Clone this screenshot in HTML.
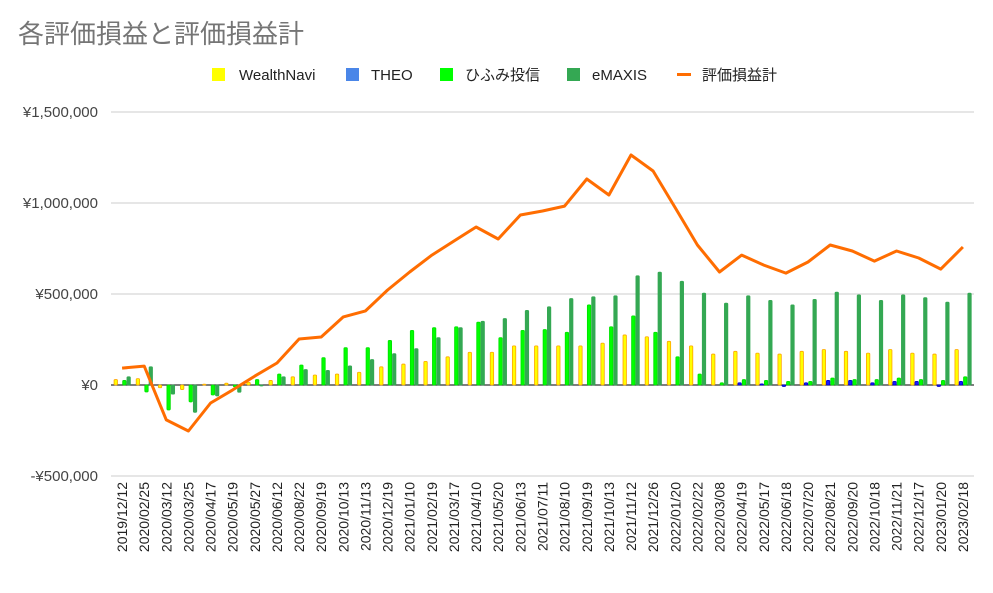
<!DOCTYPE html>
<html><head><meta charset="utf-8"><style>
body{margin:0;background:#fff;}
svg text{font-family:"Liberation Sans","Noto Sans CJK JP",sans-serif;}
</style></head><body>
<svg id="chart" width="993" height="588" xmlns="http://www.w3.org/2000/svg">
<rect width="993" height="588" fill="#fff"/>
<text x="18" y="43" font-size="26" fill="#757575">各評価損益と評価損益計</text>
<g id="legend" font-size="15" fill="#222">
<rect x="212" y="68" width="13" height="13" fill="#ffff00"/><text x="239" y="80">WealthNavi</text>
<rect x="346" y="68" width="13" height="13" fill="#4a86e8"/><text x="371" y="80">THEO</text>
<rect x="440" y="68" width="13" height="13" fill="#00ff00"/><text x="465" y="80">ひふみ投信</text>
<rect x="567" y="68" width="13" height="13" fill="#34a853"/><text x="592" y="80">eMAXIS</text>
<rect x="677" y="73" width="14" height="3" fill="#ff6d01"/><text x="702" y="80">評価損益計</text>
</g>
<g id="grid"></g><g id="bars"></g><g id="line"></g><g id="xlabels"></g>
</svg>
<script>
const categories=["2019/12/12","2020/02/25","2020/03/12","2020/03/25","2020/04/17","2020/05/19","2020/05/27","2020/06/12","2020/08/22","2020/09/19","2020/10/13","2020/11/13","2020/12/19","2021/01/10","2021/02/19","2021/03/17","2021/04/10","2021/05/20","2021/06/13","2021/07/11","2021/08/10","2021/09/19","2021/10/13","2021/11/12","2021/12/26","2022/01/20","2022/02/22","2022/03/08","2022/04/19","2022/05/17","2022/06/18","2022/07/20","2022/08/21","2022/09/20","2022/10/18","2022/11/21","2022/12/17","2023/01/20","2023/02/18"];
const wealthNavi=[30000,35000,-15000,-25000,5000,10000,15000,25000,45000,55000,60000,70000,100000,115000,130000,155000,180000,180000,215000,215000,215000,215000,230000,275000,265000,240000,215000,170000,185000,175000,170000,185000,195000,185000,175000,195000,175000,170000,195000];
const theo=[0,0,0,0,0,0,0,0,0,0,0,0,0,0,0,0,0,0,0,0,0,0,0,0,0,0,0,0,12000,6000,-8000,12000,25000,25000,12000,20000,20000,-8000,20000];
const hifumi=[25000,-38000,-137000,-93000,-55000,-10000,30000,60000,110000,150000,205000,205000,245000,300000,315000,320000,345000,260000,300000,305000,290000,440000,320000,380000,290000,155000,60000,12000,30000,25000,20000,20000,38000,30000,30000,38000,30000,25000,45000];
const emaxis=[45000,100000,-50000,-150000,-60000,-40000,-5000,45000,85000,80000,105000,140000,172000,200000,260000,315000,350000,365000,410000,430000,475000,485000,490000,600000,620000,570000,505000,450000,490000,465000,440000,470000,510000,495000,465000,495000,480000,455000,505000];
const total=[93000,104000,-192000,-253000,-99000,-27000,49000,121000,253000,264000,374000,407000,522000,621000,714000,791000,868000,802000,934000,956000,983000,1132000,1044000,1264000,1176000,973000,769000,621000,714000,659000,615000,676000,769000,736000,681000,736000,698000,637000,758000];
const yTicks=[-500000,0,500000,1000000,1500000];
const yTickLabels=["-¥500,000","¥0","¥500,000","¥1,000,000","¥1,500,000"];

const NS="http://www.w3.org/2000/svg";
const x0=111,x1=974,bw=(x1-x0)/categories.length;
const xc=i=>x0+bw*(i+0.5);
const y=v=>385-v*91/500000;
function mk(tag,attrs,parent){const e=document.createElementNS(NS,tag);for(const k in attrs)e.setAttribute(k,attrs[k]);parent.appendChild(e);return e;}
const grid=document.getElementById('grid');
yTicks.forEach((t,i)=>{
  const l=mk('line',{x1:x0,x2:x1,y1:y(t),y2:y(t),stroke:t===0?'#333':'#ccc','stroke-width':t===0?1.3:1},grid);
  
  
  const tx=mk('text',{x:98,y:y(t)+5,'text-anchor':'end','font-size':15,fill:'#444'},grid);
  tx.textContent=yTickLabels[i];
  
  
});
const bars=document.getElementById('bars');
const series=[[wealthNavi,'#ffff00','#ffa500','bar-wealthnavi'],[theo,'#1a1aff','#0000cc','bar-theo'],[hifumi,'#00ff00','#00e000','bar-hifumi'],[emaxis,'#34a853','#34a853','bar-emaxis']];
series.forEach((s,si)=>{
  s[0].forEach((v,i)=>{
    if(v===0)return;
    const bx=xc(i)-8+si*4.3;
    const top=Math.min(y(v),y(0)),h=Math.abs(y(v)-y(0));
    const r=mk('rect',{x:bx,y:top,width:3.4,height:Math.max(h,1),fill:s[1],stroke:s[2],'stroke-width':0.8,rx:1},bars);
    
    
  });
});
const pts=total.map((v,i)=>xc(i).toFixed(1)+','+y(v).toFixed(1)).join(' ');
const pl=mk('polyline',{points:pts,fill:'none',stroke:'#ff6d01','stroke-width':3,'stroke-linejoin':'round'},document.getElementById('line'));


const xl=document.getElementById('xlabels');
categories.forEach((c,i)=>{
  const t=mk('text',{x:0,y:0,transform:`translate(${xc(i)+5},${482}) rotate(-90)`,'text-anchor':'end','font-size':14,fill:'#222'},xl);
  t.textContent=c;
  
  
});
</script>
</body></html>
